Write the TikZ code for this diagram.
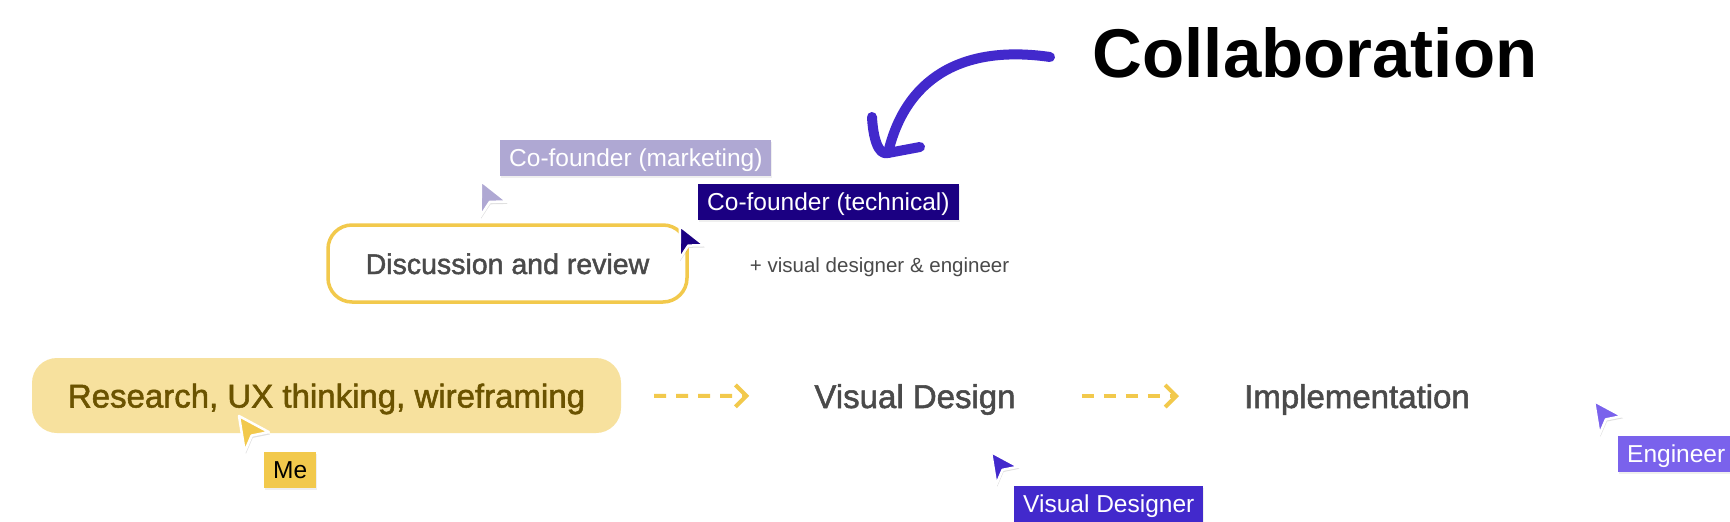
\documentclass[tikz,border=0pt]{standalone}
\usepackage{fontspec}
\setmainfont{Liberation Sans}
\newfontfamily\labelfont{Liberation Sans}[FakeBold=1.6]
\usepackage{xcolor}
\definecolor{colorInk}{HTML}{4A4A4A}
\definecolor{colorOlive}{HTML}{6B5300}
\definecolor{colorResearch}{HTML}{F7E19E}
\definecolor{colorStroke}{HTML}{F2C94C}
\definecolor{colorSwoop}{HTML}{4229CC}
\definecolor{colorMkt}{HTML}{AFA8D3}
\definecolor{colorTech}{HTML}{1B0082}
\definecolor{colorEng}{HTML}{7A62EC}
\usetikzlibrary{arrows.meta, positioning, shadows}
\tikzset{
  stage/.style={inner sep=0pt, text height=24pt, text depth=0pt, text=colorInk,
    font=\labelfont\fontsize{33}{40}\selectfont},
  badge/.style={anchor=north west, inner xsep=9pt, inner ysep=0pt, minimum height=36pt,
    text height=16pt, text depth=0pt, text=white, font=\fontsize{24.5}{30}\selectfont,
    drop shadow={opacity=0.12, shadow xshift=1pt, shadow yshift=-2pt}},
  flow/.style={colorStroke, line width=4pt, dash pattern=on 12pt off 10pt,
    -{Straight Barb[length=11pt, width=22pt]}},
  swoop/.style={colorSwoop, line width=10pt, line cap=round, line join=round},
  cursor/.pic={
    \fill[black, opacity=0.12] (1,2) -- (27,16) -- (12,19) -- (6,33) -- cycle;
    \path[pic actions, draw=white, line width=2.5pt, line join=round]
      (0,0) -- (26,14) -- (11,17) -- (5,31) -- cycle;
  }
}
\begin{document}
\begin{tikzpicture}[x=1pt, y=-1pt]
\fill[white, use as bounding box] (0,0) rectangle (1730,522);
% title and hand-drawn arrow
\node[font=\bfseries\fontsize{69}{80}\selectfont, anchor=base] (collab) at (1315,77) {Collaboration};
\coordinate (swoopStart) at (1050,57);
\coordinate (swoopTip) at (888,153);
\draw[swoop] (swoopStart) .. controls (960,44) and (905,80) .. (swoopTip);
\draw[swoop] (swoopTip) ++(-16,-36) .. controls +(1,20) and +(-10,3) .. (swoopTip) -- ++(32,-6);
% review step
\node[stage, draw=colorStroke, line width=3.5pt, rounded corners=24pt, fill=white,
  minimum width=359pt, minimum height=77pt, text height=21pt,
  font=\labelfont\fontsize{28.5}{34}\selectfont] (discuss) at (507.5,263.5) {Discussion and review};
\node[inner sep=0pt, text height=17pt, text depth=0pt, text=colorInk,
  font=\fontsize{20.5}{25}\selectfont, right=61pt of discuss] (extra) {+ visual designer \& engineer};
% main flow
\node[stage, fill=colorResearch, rounded corners=25pt, minimum width=589pt, minimum height=75pt,
  text=colorOlive] (research) at (326.5,395.5) {Research, UX thinking, wireframing};
\node[stage] (visual) at (915,396) {Visual Design};
\node[stage] (impl) at (1357,396) {Implementation};
\draw[flow, shorten <=33pt, shorten >=65pt] (research) -- (visual);
\draw[flow, shorten <=66pt, shorten >=65pt] (visual) -- (impl);
% people
\node[badge, fill=colorMkt] (mkt) at (500,140) {Co-founder (marketing)};
\node[badge, fill=colorTech] (tech) at (698,184) {Co-founder (technical)};
\node[badge, fill=colorStroke, text=black] (me) at (264,452) {Me};
\node[badge, fill=colorSwoop] (vd) at (1014,486) {Visual Designer};
\node[badge, fill=colorEng] (eng) at (1618,436) {Engineer};
\pic[fill=colorMkt, rotate=-10, scale=1.12] at (481,181) {cursor};
\pic[fill=colorTech, rotate=-10, scale=1.05] at (680,226) {cursor};
\pic[fill=colorStroke, scale=1.15] at (239,416) {cursor};
\pic[fill=colorSwoop, scale=1.05] at (991,452) {cursor};
\pic[fill=colorEng, scale=1.08] at (1594,401) {cursor};
\end{tikzpicture}
\end{document}
